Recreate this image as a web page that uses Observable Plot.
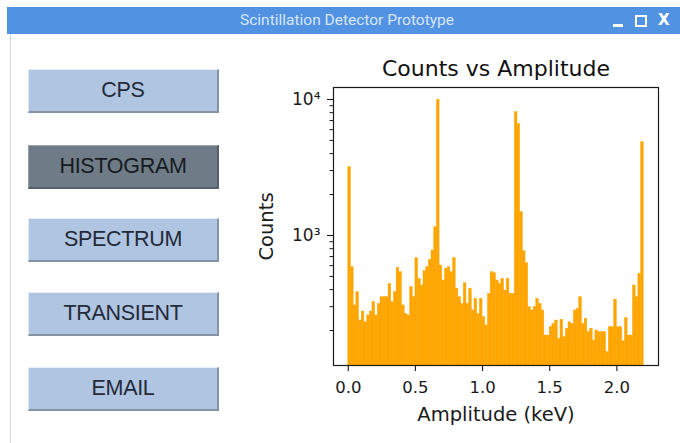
<!DOCTYPE html>
<html>
<head>
<meta charset="utf-8">
<script src="https://cdn.jsdelivr.net/npm/d3@7"></script>
<script src="https://cdn.jsdelivr.net/npm/@observablehq/plot@0.6"></script>
<style>
  html, body { margin: 0; padding: 0; background: #ffffff; }
  #win { position: relative; width: 680px; height: 443px; overflow: hidden; background: #ffffff; }
  #titlebar { position: absolute; left: 7px; top: 7px; width: 673px; height: 27px; background: #5192e2; }
  #titletext { position: absolute; left: 0; width: 680px; top: 0; height: 27px; line-height: 26px; text-align: center;
    font-family: Roboto, "Noto Sans", sans-serif; font-size: 15.5px; color: #d8e6fa; }
  .ctl { position: absolute; }
  #leftborder { position: absolute; left: 10px; top: 34px; width: 1px; height: 409px; background: #d4d4d4; }
  .btn { position: absolute; left: 28px; width: 191px; height: 44px; box-sizing: border-box;
    background: #afc5e1; border-top: 1px solid #e6edf6; border-left: 1px solid #dfe7f1;
    border-bottom: 2px solid #8593a4; border-right: 2px solid #8593a4;
    font-family: "Liberation Sans", Arial, sans-serif; font-size: 21.5px; color: #232a38;
    display: flex; align-items: center; justify-content: center; letter-spacing: -0.3px; }
  .btn.active { background: #6f7c87; border-top-color: #9aa4ad; border-left-color: #95a0aa; border-bottom-color: #55606a; border-right-color: #55606a; color: #161b22; }
  #chart { position: absolute; left: 240px; top: 40px; }
</style>
</head>
<body>
<div id="win">
  <div id="titlebar">
    <div id="titletext">Scintillation Detector Prototype</div>
    <div class="ctl" style="left:606px; top:17px; width:10px; height:3px; background:#ffffff;"></div>
    <div class="ctl" style="left:628px; top:8px; width:8px; height:8px; border:2px solid #ffffff;"></div>
    <div class="ctl" style="left:651px; top:4px; font-family:'DejaVu Sans',sans-serif; font-weight:bold; font-size:15px; color:#ffffff;">X</div>
  </div>
  <div id="leftborder"></div>
  <div id="buttons"></div>
  <div id="chart"></div>
</div>
<script>
// ---- data ----
const buttonLabels = ["CPS", "HISTOGRAM", "SPECTRUM", "TRANSIENT", "EMAIL"];
const activeButton = "HISTOGRAM";
const binWidth = 0.02; // keV
const counts = [
  3180, 585, 306, 383, 237, 276, 230, 258, 276, 324,
  258, 314, 352, 352, 352, 441, 324, 383, 578, 538,
  306, 265, 258, 417, 352, 681, 480, 429, 547, 585,
  663, 776, 1152, 9940, 602, 467, 569, 585, 538, 681,
  405, 352, 314, 446, 314, 405, 281, 342, 265, 342,
  251, 218, 373, 538, 528, 467, 441, 480, 394, 480,
  373, 373, 8070, 6620, 1484, 767, 626, 297, 281, 297,
  342, 314, 281, 184, 184, 212, 224, 237, 174, 240,
  179, 206, 230, 224, 281, 289, 352, 224, 244, 195,
  206, 169, 200, 195, 195, 195, 139, 212, 212, 337,
  212, 212, 167, 247, 184, 184, 429, 352, 523, 4857
];
const xTicks = [0, 0.5, 1.0, 1.5, 2.0];
const yMajorTicks = [1000, 10000];
const yMinorTicks = [200, 300, 400, 500, 600, 700, 800, 900, 2000, 3000, 4000, 5000, 6000, 7000, 8000, 9000];
const xDomain = [-0.11, 2.31];
const yDomain = [110.7, 12250];
const titleText = "Counts vs Amplitude";
const xLabel = "Amplitude (keV)";
const yLabel = "Counts";
const superscripts = {"0":"⁰","1":"¹","2":"²","3":"³","4":"⁴","5":"⁵"};

// ---- buttons ----
const buttonTops = [69, 145, 218, 292, 367];
const btnHost = document.getElementById("buttons");
buttonLabels.forEach((label, i) => {
  const b = document.createElement("div");
  b.className = "btn" + (label === activeButton ? " active" : "");
  b.style.top = buttonTops[i] + "px";
  b.textContent = label;
  btnHost.appendChild(b);
});

// ---- chart ----
const bins = counts.map((c, i) => ({
  x0: +(i * binWidth).toFixed(2),
  x1: +((i + 1) * binWidth).toFixed(2),
  count: c
}));

const font = "'DejaVu Sans', sans-serif";
const chart = Plot.plot({
  width: 440,
  height: 400,
  marginLeft: 93,
  marginTop: 47,
  marginRight: 22,
  marginBottom: 75,
  style: { fontFamily: font, background: "transparent", color: "#1a1a1a", overflow: "visible" },
  x: { domain: xDomain },
  y: { type: "log", domain: yDomain },
  marks: [
    Plot.rect(bins, { x1: "x0", x2: "x1", y1: yDomain[0], y2: "count", fill: "#ffa500", stroke: "#ffa500", strokeWidth: 0.4, clip: true }),
    Plot.frame({ stroke: "#1a1a1a", strokeWidth: 1.2 }),
    Plot.axisY(yMinorTicks, { tickSize: 3.5, tickFormat: () => "", label: null, strokeWidth: 1 }),
    Plot.axisY(yMajorTicks, {
      tickSize: 6, tickPadding: 7, fontSize: 17, label: null, strokeWidth: 1.1,
      tickFormat: d => "10" + superscripts[String(Math.round(Math.log10(d)))]
    }),
    Plot.axisX(xTicks, {
      tickSize: 6, tickPadding: 10, fontSize: 16.5, label: null, strokeWidth: 1.1,
      tickFormat: d3.format(".1f")
    }),
    Plot.text([titleText], { frameAnchor: "top", lineAnchor: "middle", textAnchor: "middle", dy: -19, fontSize: 22, fill: "#111" }),
    Plot.text([xLabel], { frameAnchor: "bottom", lineAnchor: "middle", textAnchor: "middle", dy: 49, fontSize: 19.5, fill: "#1a1a1a" }),
    Plot.text([yLabel], { frameAnchor: "left", lineAnchor: "middle", textAnchor: "middle", dx: -67, rotate: -90, fontSize: 19.5, fill: "#1a1a1a" })
  ]
});
document.getElementById("chart").appendChild(chart);
</script>
</body>
</html>
